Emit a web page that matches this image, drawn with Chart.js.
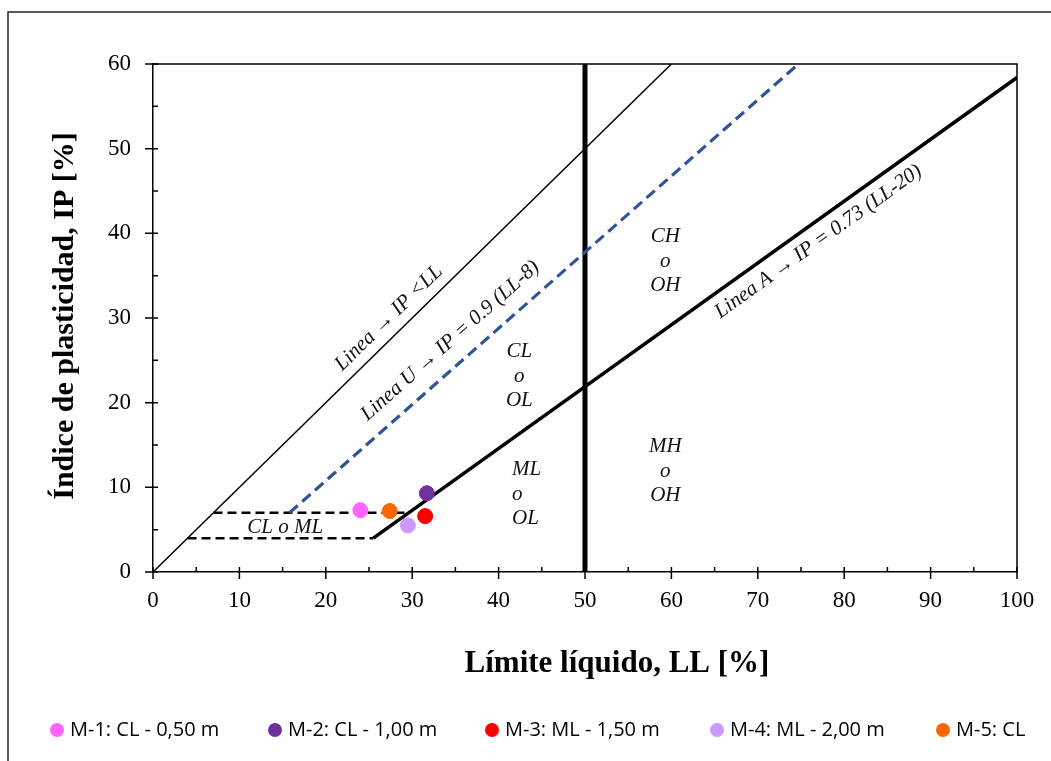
<!DOCTYPE html>
<html>
<head>
<meta charset="utf-8">
<script src="https://cdn.jsdelivr.net/npm/chart.js@4.4.0/dist/chart.umd.min.js"></script>
<style>
  html, body { margin: 0; padding: 0; background: #fff; overflow: hidden; }
  #wrap { width: 1051px; height: 761px; position: relative; }
</style>
</head>
<body>
<div id="wrap"><canvas id="plasticityChart" width="1051" height="761"></canvas></div>
<script>
// Muestras: límite líquido (LL) e índice de plasticidad (IP)
const sampleLabels = ['M-1: CL - 0,50 m', 'M-2: CL - 1,00 m', 'M-3: ML - 1,50 m', 'M-4: ML - 2,00 m', 'M-5: CL'];
const sampleLL = [24.0, 31.7, 31.5, 29.5, 27.4];
const sampleIP = [7.3, 9.3, 6.6, 5.5, 7.2];
const sampleColors = ['#ff66ff', '#7030a0', '#ff0000', '#cc99ff', '#ff6600'];

// Líneas de la carta de plasticidad (extremos en LL / IP)
const limiteLL = [0, 60];          // IP < LL
const limiteIP = [0, 60];
const lineaU_LL = [15.8, 74.7];    // IP = 0.9 (LL-8)
const lineaU_IP = [7, 60];
const lineaA_LL = [25.5, 100];     // IP = 0.73 (LL-20)
const lineaA_IP = [4, 58.4];
const ll50_LL = [50, 50];
const ll50_IP = [0, 60];
const clmlAlto_LL = [7, 29.6];
const clmlAlto_IP = [7, 7];
const clmlBajo_LL = [4, 25.5];
const clmlBajo_IP = [4, 4];

// Ejes
const xMin = 0, xMax = 100, xStep = 10;
const yMin = 0, yMax = 60, yStep = 10;

const pts = (xs, ys) => xs.map((v, i) => ({ x: v, y: ys[i] }));

// Rótulos de las zonas y de las líneas (coordenadas en LL / IP)
const zoneLabels = [
  { lines: ['CL o ML'], x: 15.3, y: 5.3, align: 'center' },
  { lines: ['CL', 'o', 'OL'], x: 42.4, y: 26.0, align: 'center' },
  { lines: ['ML', 'o', 'OL'], x: 41.55, y: 12.05, align: 'left' },
  { lines: ['CH', 'o', 'OH'], x: 59.3, y: 39.6, align: 'center' },
  { lines: ['MH', 'o', 'OH'], x: 59.3, y: 14.8, align: 'center' }
];
const lineLabels = [
  { text: 'Linea \u2192 IP <LL', x: 27.3, y: 30.0, along: [limiteLL, limiteIP] },
  { text: 'Linea U \u2192 IP = 0.9 (LL-8)', x: 34.4, y: 27.3, along: [lineaU_LL, lineaU_IP] },
  { text: 'Linea A \u2192 IP = 0.73 (LL-20)', x: 77.0, y: 39.0, along: [lineaA_LL, lineaA_IP] }
];

const serif = '"Times New Roman", "Liberation Serif", serif';

const sampleSets = sampleLabels.map((lab, i) => ({
  label: lab,
  data: [{ x: sampleLL[i], y: sampleIP[i] }],
  backgroundColor: sampleColors[i],
  borderColor: sampleColors[i],
  borderWidth: 1,
  pointRadius: 7.5,
  order: 0
}));

const lineSet = (label, xs, ys, color, width, dash) => ({
  label: label,
  data: pts(xs, ys),
  showLine: true,
  borderColor: color,
  borderWidth: width,
  borderDash: dash || [],
  pointRadius: 0,
  fill: false,
  order: 1
});

const casagrande = {
  id: 'casagrande',
  afterDraw(chart) {
    const { ctx, chartArea: a, scales: { x, y } } = chart;
    ctx.save();

    // marco exterior
    ctx.strokeStyle = '#222';
    ctx.lineWidth = 1.5;
    ctx.strokeRect(8, 12, 1100, 800);

    // borde superior y derecho del área de trazado
    ctx.strokeStyle = '#000';
    ctx.lineWidth = 1.5;
    ctx.beginPath();
    ctx.moveTo(a.left, a.top);
    ctx.lineTo(a.right, a.top);
    ctx.lineTo(a.right, a.bottom);
    ctx.stroke();

    // marcas principales y secundarias
    ctx.beginPath();
    for (let v = xMin; v <= xMax; v += xStep / 2) {
      const px = x.getPixelForValue(v);
      const major = v % xStep === 0;
      ctx.moveTo(px, a.bottom - 5);
      ctx.lineTo(px, major ? a.bottom + 7 : a.bottom);
    }
    for (let v = yMin; v <= yMax; v += yStep / 2) {
      const py = y.getPixelForValue(v);
      const major = v % yStep === 0;
      ctx.moveTo(major ? a.left - 8 : a.left, py);
      ctx.lineTo(a.left + 5, py);
    }
    ctx.stroke();

    // rótulos de zona
    ctx.fillStyle = '#111';
    ctx.font = 'italic 21px ' + serif;
    ctx.textBaseline = 'middle';
    zoneLabels.forEach(z => {
      ctx.textAlign = z.align;
      const px = x.getPixelForValue(z.x);
      const py = y.getPixelForValue(z.y);
      z.lines.forEach((t, k) => ctx.fillText(t, px, py + k * 24.5));
    });

    // rótulos girados según la pendiente de cada línea
    ctx.textAlign = 'center';
    ctx.font = 'italic 21px ' + serif;
    lineLabels.forEach(l => {
      const [xs, ys] = l.along;
      const dx = x.getPixelForValue(xs[1]) - x.getPixelForValue(xs[0]);
      const dy = y.getPixelForValue(ys[1]) - y.getPixelForValue(ys[0]);
      ctx.save();
      ctx.translate(x.getPixelForValue(l.x), y.getPixelForValue(l.y));
      ctx.rotate(Math.atan2(dy, dx));
      ctx.fillText(l.text, 0, 0);
      ctx.restore();
    });

    // títulos de los ejes
    ctx.fillStyle = '#000';
    ctx.font = 'bold 31px ' + serif;
    ctx.fillText('Límite líquido, LL [%]', 617, 664);
    ctx.font = 'bold 30px ' + serif;
    ctx.save();
    ctx.translate(65, 316);
    ctx.rotate(-Math.PI / 2);
    ctx.fillText('Índice de plasticidad, IP [%]', 0, 0);
    ctx.restore();

    // leyenda
    const dotX = [57, 275, 492, 717, 943];
    ctx.font = '20px "Open Sans", sans-serif';
    ctx.textAlign = 'left';
    sampleSets.forEach((ds, i) => {
      ctx.fillStyle = ds.backgroundColor;
      ctx.beginPath();
      ctx.arc(dotX[i], 730, 7, 0, Math.PI * 2);
      ctx.fill();
      ctx.fillStyle = '#000';
      ctx.fillText(ds.label, dotX[i] + 13, 730);
    });

    ctx.restore();
  }
};

new Chart(document.getElementById('plasticityChart').getContext('2d'), {
  type: 'scatter',
  data: {
    datasets: [
      ...sampleSets,
      lineSet('IP < LL', limiteLL, limiteIP, '#000', 1.5),
      lineSet('Línea U', lineaU_LL, lineaU_IP, '#2f5597', 3.2, [11, 6]),
      lineSet('Línea A', lineaA_LL, lineaA_IP, '#000', 3.5),
      lineSet('LL = 50', ll50_LL, ll50_IP, '#000', 5),
      lineSet('CL-ML sup.', clmlAlto_LL, clmlAlto_IP, '#000', 2.5, [9, 5]),
      lineSet('CL-ML inf.', clmlBajo_LL, clmlBajo_IP, '#000', 2.5, [9, 5])
    ]
  },
  options: {
    responsive: false,
    animation: false,
    events: [],
    layout: { padding: { top: 64, right: 34, left: 0, bottom: 0 } },
    plugins: { legend: { display: false }, tooltip: { enabled: false } },
    scales: {
      x: {
        type: 'linear', min: xMin, max: xMax,
        afterFit(scale) { scale.height = 189; },
        ticks: { stepSize: xStep, color: '#000', padding: 15, font: { family: serif, size: 23 } },
        grid: { display: false, drawTicks: false },
        border: { display: true, color: '#000', width: 1.5 }
      },
      y: {
        type: 'linear', min: yMin, max: yMax,
        afterFit(scale) { scale.width = 153; },
        ticks: { stepSize: yStep, color: '#000', padding: 22, font: { family: serif, size: 23 } },
        grid: { display: false, drawTicks: false },
        border: { display: true, color: '#000', width: 1.5 }
      }
    }
  },
  plugins: [casagrande]
});
</script>
</body>
</html>
